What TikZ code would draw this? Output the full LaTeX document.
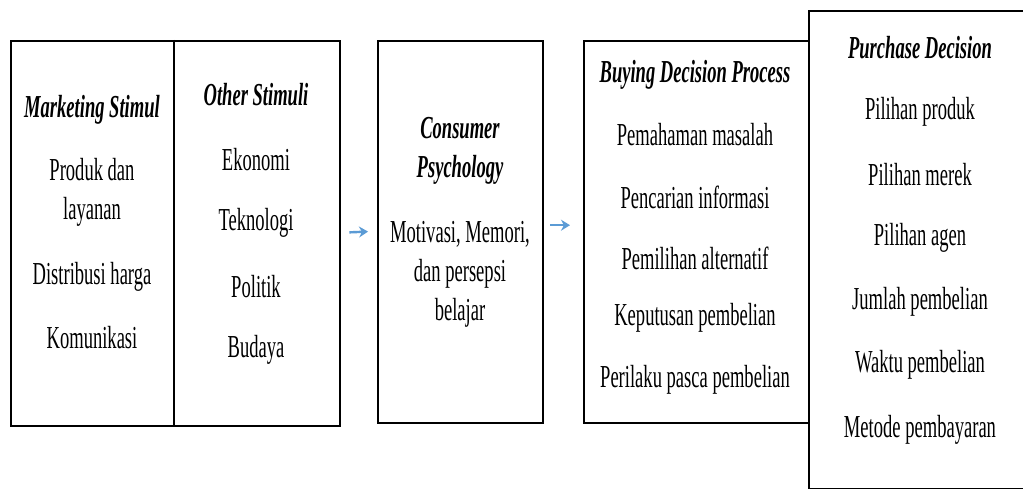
\documentclass[tikz,border=0pt]{standalone}
\usepackage{fontspec}
\setmainfont{Liberation Serif}[FakeStretch=0.58]
\usetikzlibrary{arrows.meta}
\begin{document}
\begin{tikzpicture}[x=1pt,y=-1pt,
  box/.style={draw=black,line width=2.4pt,rectangle,inner sep=0pt,anchor=north west},
  txt/.style={inner sep=0pt,align=center,font=\fontsize{32}{39}\selectfont},
  head/.style={txt,font=\fontsize{32}{39}\selectfont\bfseries\itshape},
  arr/.style={draw={rgb,255:red,91;green,155;blue,213},line width=2.4pt,-{Stealth[length=9pt,width=11pt]}}]
\clip (0,0) rectangle (1023,489);
\fill[white] (0,0) rectangle (1023,489);
% boxes
\node[box,minimum width=329pt,minimum height=385pt] (b1) at (10,40) {};
\node[box,minimum width=165pt,minimum height=382pt] (b2) at (377,40) {};
\node[box,minimum width=225pt,minimum height=382pt] (b3) at (583,40) {};
\node[box,minimum width=230pt,minimum height=478pt] (b4) at (808,10) {};
\coordinate (dtop) at (174,40);
\coordinate (dbot) at (174,425);
\draw[line width=1.8pt] (dtop) -- (dbot);
% box 1 left column
\node[head] (t1) at (92,110) {Marketing Stimul};
\node[txt] (t2) at (92,192) {Produk dan\\layanan};
\node[txt] (t3) at (92,277) {Distribusi harga};
\node[txt] (t4) at (92,338) {Komunikasi};
% box 1 right column
\node[head] (o1) at (256,95) {Other Stimuli};
\node[txt] (o2) at (256,160) {Ekonomi};
\node[txt] (o3) at (256,223) {Teknologi};
\node[txt] (o4) at (256,287) {Politik};
\node[txt] (o5) at (256,350) {Budaya};
% box 2
\node[head] (c1) at (460,151) {Consumer\\Psychology};
\node[txt] (c2) at (460,274) {Motivasi, Memori,\\dan persepsi\\belajar};
% box 3
\node[head] (p1) at (695,75) {Buying Decision Process};
\node[txt] (p2) at (695,135) {Pemahaman masalah};
\node[txt] (p3) at (695,197) {Pencarian informasi};
\node[txt] (p4) at (695,258) {Pemilihan alternatif};
\node[txt] (p5) at (695,318) {Keputusan pembelian};
\node[txt] (p6) at (695,380) {Perilaku pasca pembelian};
% box 4
\node[head] (d1) at (920,48) {Purchase Decision};
\node[txt] (d2) at (920,112) {Pilihan produk};
\node[txt] (d3) at (920,175) {Pilihan merek};
\node[txt] (d4) at (920,238) {Pilihan agen};
\node[txt] (d5) at (920,302) {Jumlah pembelian};
\node[txt] (d6) at (920,365) {Waktu pembelian};
\node[txt] (d7) at (920,430) {Metode pembayaran};
% arrows
\draw[arr,shorten <=8pt,shorten >=9pt] ([yshift=1pt]b1.east) -- ([yshift=1pt]b2.west);
\draw[arr,shorten <=6pt,shorten >=13pt] ([yshift=7pt]b2.east) -- ([yshift=7pt]b3.west);
\end{tikzpicture}
\end{document}
